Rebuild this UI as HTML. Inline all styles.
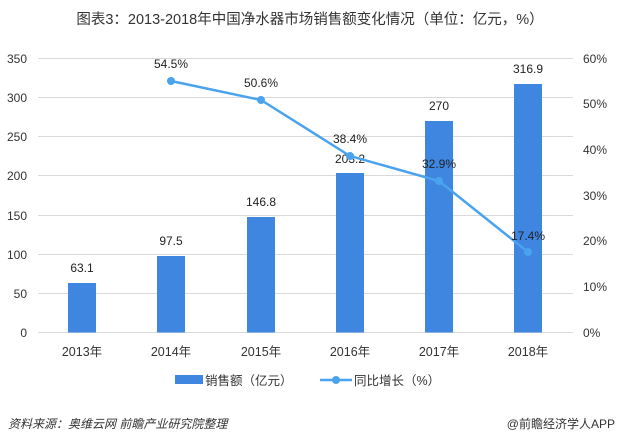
<!DOCTYPE html>
<html><head><meta charset="utf-8"><style>
body{margin:0;background:#fff;}
svg{display:block;font-family:"Liberation Sans","Noto Sans CJK SC",sans-serif;}
</style></head><body>
<svg width="617" height="443" viewBox="0 0 617 443" xmlns="http://www.w3.org/2000/svg">
<text x="310" y="24" font-size="14.5" fill="#333" text-anchor="middle">图表3：2013-2018年中国净水器市场销售额变化情况（单位：亿元，%）</text>
<g stroke="#d9d9d9" stroke-width="1">
<line x1="38" x2="573" y1="58.5" y2="58.5"/><line x1="38" x2="573" y1="97.5" y2="97.5"/>
<line x1="38" x2="573" y1="136.5" y2="136.5"/><line x1="38" x2="573" y1="175.5" y2="175.5"/>
<line x1="38" x2="573" y1="215.5" y2="215.5"/><line x1="38" x2="573" y1="254.5" y2="254.5"/>
<line x1="38" x2="573" y1="293.5" y2="293.5"/><line x1="38" x2="573" y1="332.5" y2="332.5"/>
</g>
<g font-size="12" fill="#333" text-anchor="end">
<text x="27" y="63">350</text><text x="27" y="102">300</text><text x="27" y="141">250</text><text x="27" y="180">200</text><text x="27" y="220">150</text><text x="27" y="259">100</text><text x="27" y="298">50</text><text x="27" y="337">0</text>
</g>
<g font-size="12" fill="#333">
<text x="583" y="63">60%</text><text x="583" y="108">50%</text><text x="583" y="154">40%</text><text x="583" y="200">30%</text><text x="583" y="245">20%</text><text x="583" y="291">10%</text><text x="583" y="337">0%</text>
</g>
<g fill="#3f86e1">
<rect x="68" y="283" width="28" height="49.5"/>
<rect x="157" y="256" width="28" height="76.5"/>
<rect x="247" y="217" width="28" height="115.5"/>
<rect x="336" y="173" width="28" height="159.5"/>
<rect x="425" y="121" width="28" height="211.5"/>
<rect x="514" y="84" width="28" height="248.5"/>
</g>
<g font-size="12" fill="#222" text-anchor="middle">
<text x="82" y="272">63.1</text><text x="171" y="245">97.5</text><text x="261" y="206">146.8</text><text x="350" y="163">203.2</text><text x="439" y="110">270</text><text x="528" y="73">316.9</text>
</g>
<polyline points="171,81 261,100 350,156 439,181 528,252" fill="none" stroke="#4aa3ee" stroke-width="2.5"/>
<g fill="#4aa3ee">
<circle cx="171" cy="81" r="4"/><circle cx="261" cy="100" r="4"/><circle cx="350" cy="156" r="4"/><circle cx="439" cy="181" r="4"/><circle cx="528" cy="252" r="4"/>
</g>
<g font-size="12" fill="#222" text-anchor="middle">
<text x="171" y="68">54.5%</text><text x="261" y="87">50.6%</text><text x="350" y="143">38.4%</text><text x="439" y="168">32.9%</text><text x="528" y="240">17.4%</text>
</g>
<g font-size="12.5" fill="#333" text-anchor="middle">
<text x="82" y="356">2013年</text><text x="171" y="356">2014年</text><text x="261" y="356">2015年</text><text x="350" y="356">2016年</text><text x="439" y="356">2017年</text><text x="528" y="356">2018年</text>
</g>
<rect x="175" y="375" width="28" height="9" fill="#3f86e1"/>
<text x="205" y="385" font-size="12.5" fill="#333">销售额（亿元）</text>
<line x1="320" x2="352" y1="380" y2="380" stroke="#4aa3ee" stroke-width="2.5"/>
<circle cx="336" cy="380" r="4" fill="#4aa3ee"/>
<text x="354" y="385" font-size="12.5" fill="#333">同比增长（%）</text>
<text x="8" y="428" font-size="12" fill="#333" font-style="italic">资料来源：奥维云网 前瞻产业研究院整理</text>
<text x="615" y="428" font-size="12" fill="#333" text-anchor="end">@前瞻经济学人APP</text>
</svg>
</body></html>
